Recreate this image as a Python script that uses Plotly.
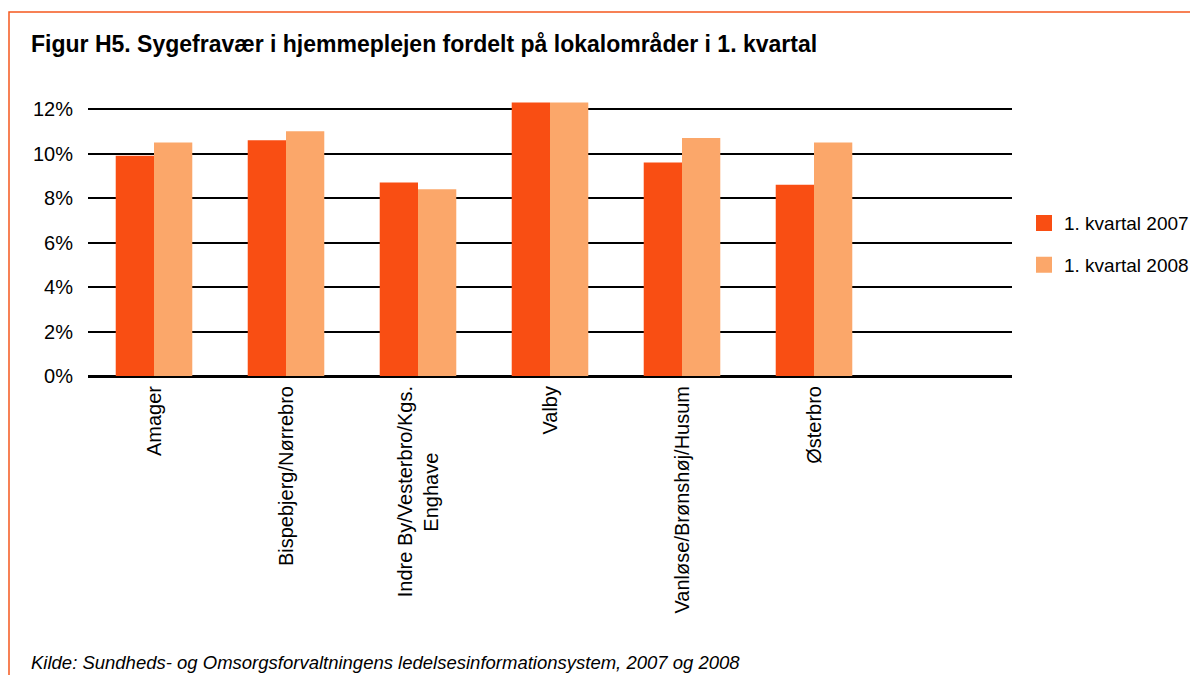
import plotly.graph_objects as go

categories = ["Amager", "Bispebjerg/Nørrebro",
              "Indre By/Vesterbro/Kgs.<br>Enghave" + "\u00a0" * 12,
              "Valby", "Vanløse/Brønshøj/Husum", "Østerbro"]
series_names = ["1. kvartal 2007", "1. kvartal 2008"]
values_2007 = [9.9, 10.6, 8.7, 12.3, 9.6, 8.6]
values_2008 = [10.5, 11.0, 8.4, 12.3, 10.7, 10.5]
y_ticks = [0, 2, 4, 6, 8, 10, 12]
y_tick_labels = ["0%", "2%", "4%", "6%", "8%", "10%", "12%"]

colors = ["#F94E13", "#FBA76A"]
FONT = "Liberation Sans, Arial, sans-serif"

# page body margin offset (figure is drawn 8px in from the page corner)
OFF = 8
W, H = 1198 - OFF, 675 - OFF
# plot area in reference-page pixels
PL, PR, PT, PB = 88, 1012, 98, 375.6
L, R, T, B = PL - OFF, W - (PR - OFF), PT - OFF, H - (PB - OFF)

fig = go.Figure()
for name, vals, c in zip(series_names, [values_2007, values_2008], colors):
    fig.add_trace(go.Bar(x=list(range(len(categories))), y=vals, name=name,
                         marker=dict(color=c, line=dict(width=0)),
                         showlegend=False))
for i, (name, c) in enumerate(zip(series_names, colors)):
    fig.add_trace(go.Scatter(x=[None], y=[None], mode="markers", name=name,
                             legendgroup=f"g{i}",
                             marker=dict(symbol="square", size=18, color=c)))

pw = PR - PL
ph = PB - PT


def px(x):  # reference page x -> paper coordinate
    return (x - PL) / pw


def py(y):  # reference page y -> paper coordinate
    return (PB - y) / ph


fig.update_layout(
    width=W, height=H,
    margin=dict(l=L, r=R, t=T, b=B, autoexpand=False),
    paper_bgcolor="white", plot_bgcolor="white",
    barmode="group", bargap=0.42, bargroupgap=0,
    font=dict(family=FONT, size=20, color="black"),
    legend=dict(x=px(1024), y=py(204), xanchor="left", yanchor="top",
                font=dict(size=19), tracegroupgap=14, itemwidth=30,
                bgcolor="rgba(0,0,0,0)"),
    xaxis=dict(tickmode="array", tickvals=list(range(len(categories))),
               ticktext=categories, range=[-0.5, 6.5], tickangle=-90,
               showline=True, linecolor="black", linewidth=2,
               showgrid=False, ticks="", zeroline=False,
               tickfont=dict(size=20)),
    yaxis=dict(range=[0, 12.5], tickmode="array", tickvals=y_ticks,
               ticktext=y_tick_labels, showgrid=True, gridcolor="black",
               gridwidth=2, zeroline=True, zerolinecolor="black",
               zerolinewidth=2, ticks="", ticklabelstandoff=14,
               tickfont=dict(size=20)),
    shapes=[dict(type="rect", xref="paper", yref="paper",
                 x0=px(9), x1=px(1250), y0=py(12), y1=py(720),
                 line=dict(color="#F5581E", width=1.5), layer="below")],
    annotations=[
        dict(text="<b>Figur H5. Sygefravær i hjemmeplejen fordelt på lokalområder i 1. kvartal</b>",
             xref="paper", yref="paper", x=px(29), y=py(44), xanchor="left",
             yanchor="middle", showarrow=False, font=dict(size=23)),
        dict(text="<i>Kilde: Sundheds- og Omsorgsforvaltningens ledelsesinformationsystem, 2007 og 2008</i>",
             xref="paper", yref="paper", x=px(29), y=py(662), xanchor="left",
             yanchor="middle", showarrow=False, font=dict(size=18.5)),
    ],
)

fig.write_html("out.html")
